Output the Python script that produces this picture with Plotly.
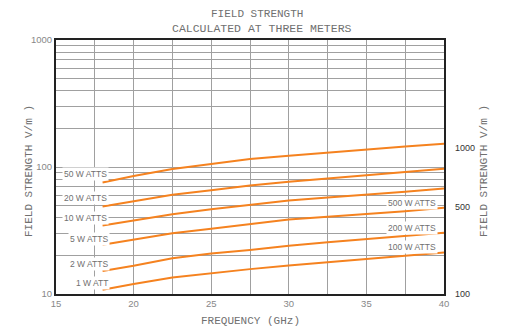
import math
import plotly.graph_objects as go

freq = [18, 20, 22.5, 25, 27.5, 30, 32.5, 35, 37.5, 40]
w50 = [75.5, 84.8, 96.3, 105.1, 115.5, 122.7, 130.3, 138.5, 145.3, 152.6]
w20 = [48.8, 53.9, 60.4, 65.5, 71.5, 76.5, 81.2, 85.8, 91.2, 96.9]
w10 = [34.6, 37.9, 42.5, 46.4, 50.4, 54.5, 57.4, 60.1, 63.8, 67.7]
w5 = [24.4, 26.8, 30.1, 32.7, 35.7, 38.6, 40.6, 42.5, 44.9, 47.7]
w2 = [15.2, 16.7, 19.1, 20.8, 22.2, 24.0, 25.5, 27.0, 28.7, 30.4]
w1 = [10.8, 12.0, 13.5, 14.6, 15.7, 16.8, 17.9, 18.9, 20.0, 21.2]
series = [w50, w20, w10, w5, w2, w1]

left_labels = ["50 W ATTS", "20 W ATTS", "10 W ATTS", "5 W ATTS", "2 W ATTS", "1 W ATT"]
left_label_x = [16.93, 16.93, 16.93, 17.13, 17.13, 17.3]
left_label_y = [88.5, 56.9, 39.5, 27.3, 17.2, 12.3]
right_labels = ["500 W ATTS", "200 W ATTS", "100 W ATTS"]
right_label_x = [37.92, 37.92, 37.92]
right_label_y = [52.5, 33.2, 23.5]

x_tick_vals = [15, 20, 25, 30, 35, 40]
x_minor_vals = [17.5, 22.5, 27.5, 32.5, 37.5]
y_tick_vals = [10, 100, 1000]
y_minor_vals = [v * m for m in (10, 100) for v in range(2, 10)]
right_tick_text = ["100", "500", "1000"]
right_tick_pos = [10.1, 48.9, 141.0]

GRID = "#a0a0a0"
TXT = "#707070"
TITLE = "#707070"
ORANGE = "#f5821f"
MONO = "Liberation Mono, Courier New, monospace"
SANS = "Liberation Sans, Arial, sans-serif"

# page offsets (html body margin is 8px)
OFF = 8
PL, PR, PT, PB = 56, 444, 40, 294  # plot area in page pixels


def paper_x(px):
    return (px - PL) / (PR - PL)


def paper_y(py):
    return (PB - py) / (PB - PT)


fig = go.Figure()
for s in series:
    fig.add_trace(go.Scatter(x=freq, y=s, mode="lines",
                             line=dict(color=ORANGE, width=2), showlegend=False,
                             hoverinfo="skip"))
fig.add_trace(go.Scatter(x=[freq[0]], y=[w1[0]], yaxis="y2", mode="markers",
                         marker=dict(opacity=0), showlegend=False, hoverinfo="skip"))

for t, x, y in zip(left_labels + right_labels, left_label_x + right_label_x,
                   left_label_y + right_label_y):
    fig.add_annotation(x=x, y=math.log10(y), xref="x", yref="y", text=t,
                       showarrow=False, bgcolor="white", borderpad=1,
                       font=dict(family=SANS, size=8.5, color=TXT))


def title_note(px, py, text, size, angle=0):
    fig.add_annotation(x=paper_x(px), y=paper_y(py), xref="paper", yref="paper",
                       xanchor="center", yanchor="middle", text=text,
                       showarrow=False, textangle=angle,
                       font=dict(family=MONO, size=size, color=TITLE))


title_note(257, 14.5, "FIELD STRENGTH", 11)
title_note(262, 28, "CALCULATED AT THREE METERS", 11.5)
title_note(250, 321, "FREQUENCY (GHz)", 11)
title_note(29, 171, "FIELD STRENGTH V/m )", 11, -90)
title_note(484, 171, "FIELD STRENGTH V/m )", 11, -90)

fig.update_layout(
    width=506 - OFF, height=330 - OFF,
    margin=dict(l=PL - OFF, r=506 - PR, t=PT - OFF, b=330 - PB),
    plot_bgcolor="white", paper_bgcolor="white",
    showlegend=False,
    xaxis=dict(range=[15, 40], tickvals=x_tick_vals, showgrid=True,
               gridcolor=GRID, gridwidth=1,
               minor=dict(tickvals=x_minor_vals, showgrid=True,
                          gridcolor=GRID, gridwidth=1, ticks=""),
               showline=True, linecolor="#222", linewidth=2, mirror=True,
               ticks="", zeroline=False,
               tickfont=dict(family=SANS, size=9.5, color="#888")),
    yaxis=dict(type="log", range=[1, 3], tickvals=y_tick_vals,
               ticktext=["10", "100", "1000"], showgrid=True,
               gridcolor=GRID, gridwidth=1,
               minor=dict(tickvals=y_minor_vals, showgrid=True,
                          gridcolor=GRID, gridwidth=1, ticks=""),
               showline=True, linecolor="#222", linewidth=2, mirror=True,
               ticks="", zeroline=False,
               tickfont=dict(family=SANS, size=9.5, color="#888")),
    yaxis2=dict(type="log", range=[1, 3], overlaying="y", side="right",
                tickvals=right_tick_pos, ticktext=right_tick_text,
                showgrid=False, ticks="", showline=False, zeroline=False,
                ticklabelstandoff=10,
                tickfont=dict(family=SANS, size=9, color="#333")),
)

fig.write_html("out.html")
